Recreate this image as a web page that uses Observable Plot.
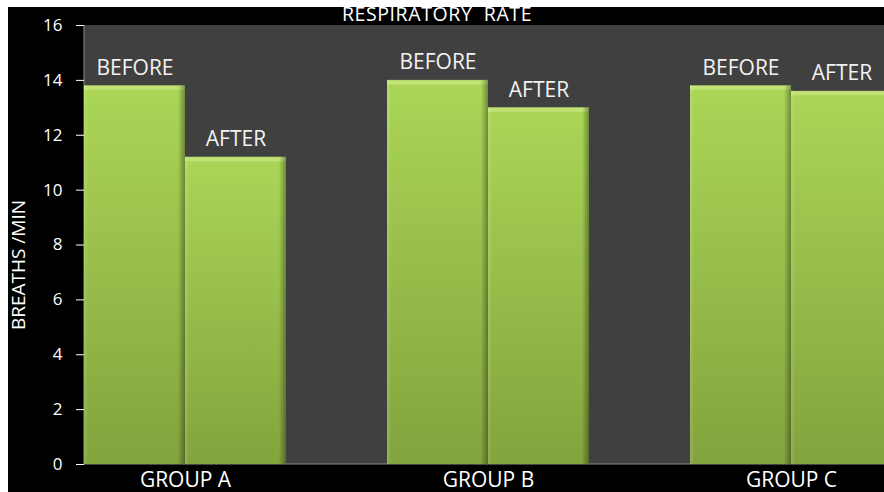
<!DOCTYPE html>
<html>
<head>
<meta charset="utf-8">
<script src="https://cdn.jsdelivr.net/npm/d3@7"></script>
<script src="https://cdn.jsdelivr.net/npm/@observablehq/plot@0.6"></script>
<style>
  body { margin: 0; background: #fff; width: 884px; height: 492px; overflow: hidden; font-family: "Open Sans", sans-serif; }
  #chart { position: absolute; left: 8px; top: 7px; width: 876px; height: 485px; background: #000; }
  #plotwrap { position: absolute; left: 0; top: 0; width: 876px; height: 485px; overflow: hidden; }
  #title { position: absolute; left: 229px; top: 0; width: 400px; height: 15px; line-height: 14px; text-align: center; color: #fff;
           font-size: 19.5px; letter-spacing: 0.6px; white-space: pre; z-index: 2; }
  #ylabel { position: absolute; left: -140px; top: 249px; width: 300px; height: 18px; line-height: 18px;
            text-align: center; color: #fff; font-size: 19px; transform: rotate(-90deg); white-space: pre; z-index: 2; }
  #chart svg g[aria-label="y-axis tick"] { stroke: #8c8c8c; }
  #chart svg g[aria-label="fx-axis tick label"] { font-size: 21px; }
</style>
</head>
<body>
<div id="chart">
  <div id="plotwrap"></div>
  <div id="title">RESPIRATORY  RATE</div>
  <div id="ylabel">BREATHS /MIN</div>
</div>
<script>
// Respiratory rate (breaths/min) before and after, per group
const groups = ["GROUP A", "GROUP B", "GROUP C"];
const phases = ["BEFORE", "AFTER"];
const before = [13.8, 14.0, 13.8];
const after = [11.2, 13.0, 13.6];
const yTicks = [0, 2, 4, 6, 8, 10, 12, 14, 16];

const rows = groups.flatMap((g, i) => [
  {group: g, phase: "BEFORE", rate: before[i]},
  {group: g, phase: "AFTER", rate: after[i]}
]);

const W = 960, H = 485;

const chart = Plot.plot({
  width: W,
  height: H,
  marginLeft: 76,
  marginRight: 76,
  marginTop: 18,
  marginBottom: 28,
  style: {background: "transparent", color: "#fff", fontFamily: "'Open Sans', sans-serif",
          fontSize: "17px", maxWidth: "none", overflow: "visible"},
  fx: {domain: groups, paddingInner: 1 / 3, paddingOuter: 0, label: null, axis: "bottom",
       tickSize: 0, tickPadding: 8},
  x: {domain: phases, padding: 0, axis: null},
  y: {domain: [0, 16], ticks: yTicks, tickSize: 8, tickPadding: 14, label: null},
  marks: [
    Plot.barY(rows, {fx: "group", x: "phase", y: "rate", fill: "url(#barFill)"}),
    Plot.tickY(rows, {fx: "group", x: "phase", y: "rate", stroke: "#c1e276", strokeWidth: 4, dy: 2}),
    Plot.barY(rows, {fx: "group", x: "phase", y: "rate", fill: "url(#barEdge)"}),
    Plot.text(rows, {fx: "group", x: "phase", y: "rate", text: "phase", lineAnchor: "bottom",
                     dy: -11, fill: "#f2f2f2", fontSize: 21})
  ]
});

// Gradients for the bevelled bars, and the dark plot area behind the marks
const svg = d3.select(chart);
const defs = svg.insert("defs", ":first-child");
const fillGrad = defs.append("linearGradient").attr("id", "barFill")
  .attr("x1", 0).attr("y1", 0).attr("x2", 0).attr("y2", 1);
fillGrad.append("stop").attr("offset", 0).attr("stop-color", "#abd657");
fillGrad.append("stop").attr("offset", 1).attr("stop-color", "#83a33d");
const edgeGrad = defs.append("linearGradient").attr("id", "barEdge")
  .attr("x1", 0).attr("y1", 0).attr("x2", 1).attr("y2", 0);
edgeGrad.append("stop").attr("offset", 0).attr("stop-color", "#ffffff").attr("stop-opacity", 0.15);
edgeGrad.append("stop").attr("offset", 0.04).attr("stop-color", "#ffffff").attr("stop-opacity", 0);
edgeGrad.append("stop").attr("offset", 0.93).attr("stop-color", "#000000").attr("stop-opacity", 0);
edgeGrad.append("stop").attr("offset", 1).attr("stop-color", "#000000").attr("stop-opacity", 0.35);

const yRange = chart.scale("y").range;          // [bottom, top]
const left = chart.scale("fx").range[0];
const bg = svg.insert("g", "defs + *");
bg.append("rect")
  .attr("x", left).attr("y", yRange[1])
  .attr("width", W - left).attr("height", yRange[0] - yRange[1])
  .attr("fill", "#404040");
bg.append("line")
  .attr("x1", left).attr("x2", left).attr("y1", yRange[1]).attr("y2", yRange[0])
  .attr("stroke", "#8c8c8c");
bg.append("line")
  .attr("x1", left).attr("x2", W).attr("y1", yRange[0]).attr("y2", yRange[0])
  .attr("stroke", "#8c8c8c");

document.getElementById("plotwrap").appendChild(chart);
</script>
</body>
</html>
